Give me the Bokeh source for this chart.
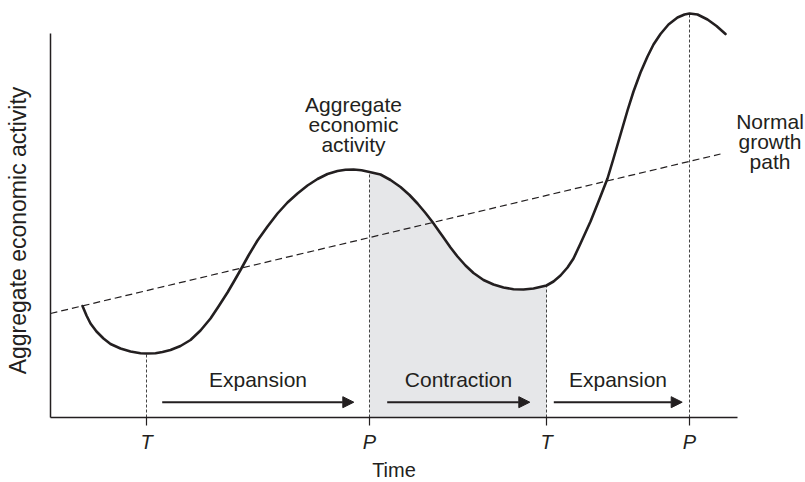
import math
from bokeh.plotting import figure
from bokeh.models import Range1d, FixedTicker, Arrow, NormalHead, ColumnDataSource
from bokeh.core.properties import value
from bokeh.embed import file_html
from bokeh.resources import INLINE

# ---- data (time units along x, activity units along y) ----
cycle_x = [3.2, 3.6, 4.0, 4.6, 5.3, 6.0, 7.0, 8.0, 9.0, 9.6, 10.5, 11.2, 12.0, 13.0, 14.0,
           15.0, 16.0, 16.8, 17.7, 18.4, 19.0, 19.8, 20.7, 21.7, 22.7, 23.7, 24.7, 25.7,
           26.7, 27.7, 28.7, 29.5, 30.3, 31.1, 31.9, 33.0, 34.0, 35.0, 35.9, 36.7, 37.5,
           38.2, 38.8, 39.3, 40.0, 40.7, 41.5, 42.3, 43.3, 44.3, 45.3, 46.3, 47.3, 48.3,
           49.6, 50.3, 51.0, 51.7, 52.3, 53.0, 54.0, 54.8, 55.7, 56.3, 57.0, 57.7, 58.3,
           59.0, 59.7, 60.3, 61.0, 61.8, 62.7, 63.4, 63.9, 64.7, 65.7, 66.6, 67.5]
cycle_y = [11.15, 10.2, 9.4, 8.6, 7.9, 7.35, 6.9, 6.6, 6.43, 6.4, 6.43, 6.55, 6.75, 7.15,
           7.75, 8.7, 9.9, 11.1, 12.5, 13.7, 14.75, 16.2, 17.7, 19.1, 20.4, 21.5, 22.4,
           23.2, 23.85, 24.35, 24.65, 24.78, 24.8, 24.72, 24.55, 24.3, 23.75, 23.05, 22.25,
           21.4, 20.45, 19.55, 18.7, 18.0, 17.0, 16.1, 15.2, 14.45, 13.75, 13.3, 13.0,
           12.83, 12.8, 12.9, 13.2, 13.6, 14.2, 15.0, 15.9, 17.4, 19.6, 21.6, 23.9, 25.9,
           28.3, 30.7, 32.6, 34.5, 36.1, 37.3, 38.35, 39.3, 40.0, 40.3, 40.4, 40.3, 39.8,
           39.15, 38.35]

trend_x = [0.0, 67.0]
trend_y = [10.4, 26.35]

turning_x = [9.6, 31.9, 49.6, 63.9]
turning_labels = ["T", "P", "T", "P"]
turning_levels = [6.4, 24.55, 13.2, 40.4]

phase_names = ["Expansion", "Contraction", "Expansion"]
phase_start = [11.17, 33.67, 50.33]
phase_end = [30.33, 47.93, 63.17]

curve_label_lines = ["Aggregate", "economic", "activity"]
trend_label_lines = ["Normal", "growth", "path"]
x_title = "Time"
y_title = "Aggregate economic activity"

INK = "#231f20"
SHADE = "#e6e7e9"
FONT = "Liberation Sans"

X_AXIS_END = 68.7
Y_AXIS_END = 38.4

p = figure(width=805, height=482,
           x_range=Range1d(-5.0, 75.5), y_range=Range1d(-6.5, 41.7),
           min_border_left=0, min_border_right=0, min_border_top=0, min_border_bottom=0,
           output_backend="svg", toolbar_location=None)
p.outline_line_color = None
p.grid.visible = False
p.background_fill_color = "white"
p.border_fill_color = "white"

# shaded contraction (peak to trough)
sel = [i for i, x in enumerate(cycle_x) if turning_x[1] <= x <= turning_x[2]]
shade_x = [cycle_x[i] for i in sel]
shade_y = [cycle_y[i] for i in sel]
p.varea(x=shade_x, y1=[0] * len(shade_x), y2=shade_y, fill_color=SHADE)

# vertical dotted lines at turning points
p.segment(x0=turning_x, y0=[0] * 4, x1=turning_x, y1=turning_levels,
          line_color="#444444", line_width=1, line_dash="3 2")

# trend line
p.line(trend_x, trend_y, line_color=INK, line_width=1.2, line_dash="7 4")

# cycle curve
p.line(cycle_x, cycle_y, line_color=INK, line_width=2.6, line_join="round", line_cap="round")

# phase arrows
arrow_level = 1.53
src = ColumnDataSource(dict(x0=phase_start, x1=phase_end, y=[arrow_level] * 3))
p.add_layout(Arrow(end=NormalHead(size=11, fill_color=INK, line_color=INK),
                   x_start="x0", y_start="y", x_end="x1", y_end="y",
                   source=src, line_color=INK, line_width=2))
phase_mid = [(a + b) / 2 for a, b in zip(phase_start, phase_end)]
txt = dict(text_font=value(FONT), text_color=INK, text_align="center",
           text_baseline="alphabetic")
p.text(x=phase_mid, y=[3.78] * 3, text=phase_names, text_font_size="21px", **txt)

# curve label
p.text(x=[30.3] * 3, y=[31.28 - 2.0 * i for i in range(3)], text=curve_label_lines,
       text_font_size="21px", **txt)

# trend label
p.text(x=[71.95] * 3, y=[29.62 - 2.0 * i for i in range(3)], text=trend_label_lines,
       text_font_size="21px", **txt)

# axis titles
p.text(x=[X_AXIS_END / 2], y=[-5.25], text=[x_title], text_font_size="20px", **txt)
p.text(x=[-3.25], y=[18.7], text=[y_title], angle=math.pi / 2, text_font_size="23px", **txt)

# axes (drawn at the data origin)
p.xaxis.fixed_location = 0
p.xaxis.ticker = FixedTicker(ticks=turning_x, minor_ticks=[])
p.xaxis.major_label_overrides = {x: l for x, l in zip(turning_x, turning_labels)}
p.xaxis.bounds = (0, X_AXIS_END)
p.xaxis.axis_line_color = INK
p.xaxis.axis_line_width = 1.5
p.xaxis.major_tick_line_color = INK
p.xaxis.major_tick_line_width = 1.2
p.xaxis.major_tick_out = 8
p.xaxis.major_tick_in = 0
p.xaxis.minor_tick_out = 0
p.xaxis.major_label_standoff = 5
p.xaxis.major_label_text_font = FONT
p.xaxis.major_label_text_font_size = "20px"
p.xaxis.major_label_text_font_style = "italic"
p.xaxis.major_label_text_color = INK

p.yaxis.fixed_location = 0
p.yaxis.ticker = FixedTicker(ticks=[], minor_ticks=[])
p.yaxis.bounds = (0, Y_AXIS_END)
p.yaxis.axis_line_color = INK
p.yaxis.axis_line_width = 1.5
p.yaxis.major_tick_out = 0
p.yaxis.minor_tick_out = 0
p.yaxis.major_label_standoff = 0

open("out.html", "w").write(file_html(p, INLINE))
